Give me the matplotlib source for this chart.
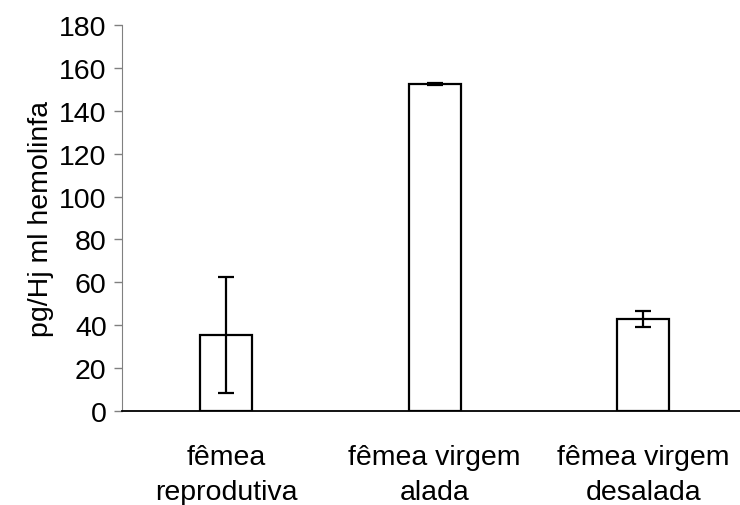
import matplotlib
matplotlib.use("Agg")
import matplotlib.pyplot as plt

categories = ["fêmea\nreprodutiva", "fêmea virgem\nalada", "fêmea virgem\ndesalada"]
values = [35.3, 152.5, 42.8]
errors = [27.0, 0.6, 3.6]
yticks = [0, 20, 40, 60, 80, 100, 120, 140, 160, 180]

plt.rcParams['font.family'] = ['Liberation Sans', 'DejaVu Sans']

fig = plt.figure(figsize=(7.4, 5.06), dpi=100)
ax = fig.add_axes([122/740, 94/506, (747.5-122)/740, (412-26)/506])

x = list(range(len(categories)))
ax.bar(x, values, width=0.25, color='white', edgecolor='black', linewidth=1.6, zorder=2)
ax.errorbar(x, values, yerr=errors, fmt='none', ecolor='black', elinewidth=1.6,
            capsize=5.8, capthick=1.6, zorder=3)

ax.set_xlim(-0.5, 2.5)
ax.set_ylim(0, 180)
ax.set_yticks(yticks)
ax.set_xticks(x)
ax.set_xticklabels(categories, fontsize=20.5, linespacing=1.45)
ax.tick_params(axis='y', labelsize=20.5, length=6, width=1, color='#808080', direction='out', pad=5)
ax.tick_params(axis='x', length=0, pad=24)
ax.spines['top'].set_visible(False)
ax.spines['right'].set_visible(False)
ax.spines['left'].set_color('#808080')
ax.spines['bottom'].set_color('black')
ax.spines['bottom'].set_linewidth(1.3)
ax.set_ylabel("pg/Hj ml hemolinfa", fontsize=20.5, labelpad=4)

fig.savefig("out.png", dpi=100)
